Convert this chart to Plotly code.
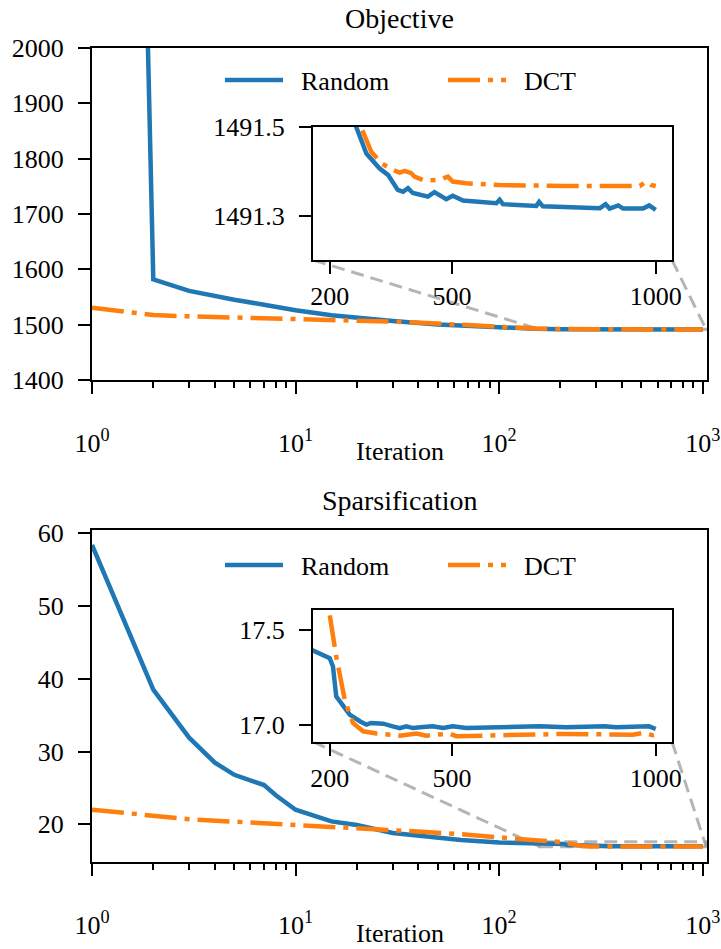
import math
import plotly.graph_objects as go

# ---------------- data ----------------
obj_iter = [1, 2, 3, 4, 5, 7, 10, 15, 20, 30, 50, 70, 100, 150, 200, 230, 265, 290, 322, 343, 367, 380,
            392, 404, 441, 457, 486, 502, 527, 609, 617, 625, 707, 714, 723, 863, 877, 887, 908,
            920, 969, 984, 1000]
obj_random = [6400, 1582, 1561, 1551, 1545, 1536, 1526, 1517, 1512.5, 1506.5, 1500.5, 1497.5, 1495.0,
              1492.6, 1491.9, 1491.7, 1491.5, 1491.44, 1491.407, 1491.392, 1491.358, 1491.354,
              1491.362, 1491.351, 1491.343, 1491.353, 1491.337, 1491.345, 1491.334, 1491.328,
              1491.336, 1491.326, 1491.322, 1491.331, 1491.321, 1491.317, 1491.326, 1491.316,
              1491.323, 1491.316, 1491.316, 1491.323, 1491.313]

obj_dct_iter = [1, 2, 3, 5, 10, 20, 30, 50, 70, 100, 150, 200, 250, 277, 302, 327, 355, 372, 384, 400,
                408, 433, 470, 490, 502, 535, 617, 781, 944, 961, 977, 989, 1000]
obj_dct = [1530.5, 1517.5, 1515, 1513, 1510.5, 1507.5, 1505.5, 1502, 1499, 1496, 1493, 1492.2, 1491.7,
           1491.5, 1491.444, 1491.418, 1491.403, 1491.397, 1491.401, 1491.396, 1491.388, 1491.379,
           1491.381, 1491.388, 1491.377, 1491.373, 1491.369, 1491.367, 1491.367, 1491.367, 1491.377,
           1491.369, 1491.367]

sp_iter = [1, 2, 3, 4, 5, 7, 8, 10, 15, 20, 30, 50, 65, 100, 150, 200, 208, 216, 233, 249, 274, 290,
           302, 331, 355, 372, 388, 404, 429, 453, 478, 502, 535, 617, 715, 780, 874, 903, 984, 1000]
sp_random = [58.4, 38.5, 31.9, 28.5, 26.8, 25.4, 24.0, 22.0, 20.4, 19.9, 18.8, 18.2, 17.85, 17.5, 17.4,
             17.351, 17.307, 17.149, 17.096, 17.053, 17.018, 17.0, 17.009, 17.005, 16.991, 16.982,
             16.991, 16.982, 16.988, 16.991, 16.982, 16.991, 16.982, 16.988, 16.991, 16.986, 16.991,
             16.986, 16.991, 16.977]

sp_dct_iter = [1, 3, 10, 20, 40, 65, 100, 150, 200, 216, 237, 257, 282, 315, 372, 413, 437, 494, 511,
               617, 780, 944, 968, 993, 1000]
sp_dct = [22.0, 20.7, 19.9, 19.5, 19.0, 18.65, 18.15, 17.8, 17.579, 17.36, 17.13, 17.009, 16.965,
          16.953, 16.942, 16.953, 16.942, 16.953, 16.939, 16.944, 16.951, 16.947, 16.956, 16.944, 16.947]

series_names = ["Random", "DCT"]
main_xticks = [1, 10, 100, 1000]
main_xticktext = ["10<sup>0</sup>", "10<sup>1</sup>", "10<sup>2</sup>", "10<sup>3</sup>"]
minor_x = [m * d for d in (1, 10, 100) for m in range(2, 10)]
obj_yticks = [1400, 1500, 1600, 1700, 1800, 1900, 2000]
sp_yticks = [20, 30, 40, 50, 60]
inset_xticks = [200, 500, 1000]
obj_inset_yticks = [1491.3, 1491.5]
sp_inset_yticks = [17.0, 17.5]

# ---------------- style / layout ----------------
W, H = 721, 949
FONT = "Liberation Serif"
FS = 26
BLUE = "#1f77b4"
ORANGE = "#ff7f0e"
LW = 4.5
DASHDOT = "32px,8px,5px,8px"
GRAY = "rgba(150,150,150,0.7)"
SPACER = "\u2002"


def px_x(p):
    return p / W


def px_y(p):
    return 1 - p / H


X_MAIN = [px_x(92), px_x(707)]
Y_TOP = [px_y(380), px_y(48)]
Y_BOT = [px_y(861.7), px_y(530)]
X_IN = [px_x(313), px_x(672)]
Y_TOP_IN = [px_y(260), px_y(127)]
Y_BOT_IN = [px_y(741.7), px_y(610)]

MAIN_XRANGE = [0, math.log10(1050)]
IN_XRANGE = [159, 1040]
OBJ_YRANGE = [1400, 2000]
SP_YRANGE = [14.86, 60.45]
OBJ_IN_YRANGE = [1491.2, 1491.5]
SP_IN_YRANGE = [16.91, 17.605]

fig = go.Figure()


def add_pair(xs_r, ys_r, xs_d, ys_d, xa, ya, legend=None, show=False):
    fig.add_trace(go.Scatter(x=xs_r, y=ys_r, mode="lines", name=SPACER + series_names[0],
                             line=dict(color=BLUE, width=LW), xaxis=xa, yaxis=ya,
                             showlegend=show, legend=legend))
    fig.add_trace(go.Scatter(x=xs_d, y=ys_d, mode="lines", name=SPACER + series_names[1],
                             line=dict(color=ORANGE, width=LW, dash=DASHDOT), xaxis=xa, yaxis=ya,
                             showlegend=show, legend=legend))


add_pair(obj_iter, obj_random, obj_dct_iter, obj_dct, "x", "y", "legend", True)
add_pair(sp_iter, sp_random, sp_dct_iter, sp_dct, "x2", "y2", "legend2", True)
add_pair(obj_iter, obj_random, obj_dct_iter, obj_dct, "x3", "y3")
add_pair(sp_iter, sp_random, sp_dct_iter, sp_dct, "x4", "y4")

axis_common = dict(showline=True, linecolor="black", linewidth=2, mirror=True, showgrid=False,
                   zeroline=False, ticks="outside", ticklen=12, tickwidth=2, tickcolor="black",
                   automargin=False,
                   tickfont=dict(family=FONT, size=FS, color="black"))
xaxis_common = dict(axis_common, ticklabelstandoff=0)
yaxis_common = dict(axis_common, ticklabelstandoff=9)

minor = dict(tickmode="array", tickvals=minor_x, ticks="outside", ticklen=6, tickwidth=1.5,
             tickcolor="black", showgrid=False)

layout = dict(
    width=W, height=H, margin=dict(l=0, r=0, t=0, b=0, autoexpand=False),
    paper_bgcolor="white", plot_bgcolor="white",
    font=dict(family=FONT, size=FS, color="black"),
    xaxis=dict(xaxis_common, domain=X_MAIN, anchor="y", type="log", range=MAIN_XRANGE,
               tickmode="array", tickvals=main_xticks, ticktext=main_xticktext, minor=minor,
               ticklabelstandoff=27),
    yaxis=dict(yaxis_common, domain=Y_TOP, anchor="x", range=OBJ_YRANGE, tickmode="array",
               tickvals=obj_yticks),
    xaxis2=dict(xaxis_common, domain=X_MAIN, anchor="y2", type="log", range=MAIN_XRANGE,
                tickmode="array", tickvals=main_xticks, ticktext=main_xticktext, minor=minor,
                ticklabelstandoff=27),
    yaxis2=dict(yaxis_common, domain=Y_BOT, anchor="x2", range=SP_YRANGE, tickmode="array",
                tickvals=sp_yticks),
    xaxis3=dict(xaxis_common, domain=X_IN, anchor="y3", range=IN_XRANGE, tickmode="array",
                tickvals=inset_xticks),
    yaxis3=dict(yaxis_common, domain=Y_TOP_IN, anchor="x3", range=OBJ_IN_YRANGE, tickmode="array",
                tickvals=obj_inset_yticks, tickformat=".1f"),
    xaxis4=dict(xaxis_common, domain=X_IN, anchor="y4", range=IN_XRANGE, tickmode="array",
                tickvals=inset_xticks),
    yaxis4=dict(yaxis_common, domain=Y_BOT_IN, anchor="x4", range=SP_IN_YRANGE, tickmode="array",
                tickvals=sp_inset_yticks, tickformat=".1f"),
    legend=dict(orientation="h", x=px_x(220), y=px_y(80), xanchor="left", yanchor="middle",
                bgcolor="rgba(0,0,0,0)", font=dict(family=FONT, size=FS), itemwidth=58,
                entrywidth=150, entrywidthmode="pixels"),
    legend2=dict(orientation="h", x=px_x(220), y=px_y(565), xanchor="left", yanchor="middle",
                 bgcolor="rgba(0,0,0,0)", font=dict(family=FONT, size=FS), itemwidth=58,
                 entrywidth=150, entrywidthmode="pixels"),
)
fig.update_layout(layout)

# titles and axis labels
for text, ypx, size in [("Objective", 19, 28), ("Iteration", 452, FS),
                        ("Sparsification", 500, 28), ("Iteration", 933, FS)]:
    fig.add_annotation(text=text, xref="paper", yref="paper", x=(X_MAIN[0] + X_MAIN[1]) / 2,
                       y=px_y(ypx), xanchor="center", yanchor="middle", showarrow=False,
                       font=dict(family=FONT, size=size, color="black"))


# zoom indicators
def main_to_paper(xv, yv, yrange, ydom):
    fx = (math.log10(xv) - MAIN_XRANGE[0]) / (MAIN_XRANGE[1] - MAIN_XRANGE[0])
    fy = (yv - yrange[0]) / (yrange[1] - yrange[0])
    return X_MAIN[0] + fx * (X_MAIN[1] - X_MAIN[0]), ydom[0] + fy * (ydom[1] - ydom[0])


for xa, ya, yr, ydom, ydom_in in [("x", "y", OBJ_YRANGE, Y_TOP, Y_TOP_IN),
                                  ("x2", "y2", SP_YRANGE, Y_BOT, Y_BOT_IN)]:
    yin = OBJ_IN_YRANGE if xa == "x" else SP_IN_YRANGE
    fig.add_shape(type="rect", xref=xa, yref=ya, x0=IN_XRANGE[0], x1=IN_XRANGE[1], y0=yin[0],
                  y1=yin[1], line=dict(color=GRAY, width=3, dash="13px,7px"), layer="below")
    for xc_in, xc in [(X_IN[0], IN_XRANGE[0]), (X_IN[1], IN_XRANGE[1])]:
        px_, py_ = main_to_paper(xc, yin[0], yr, ydom)
        fig.add_shape(type="line", xref="paper", yref="paper", x0=xc_in, y0=ydom_in[0], x1=px_,
                      y1=py_, line=dict(color=GRAY, width=3, dash="13px,7px"), layer="below")

fig.write_html("out.html")
